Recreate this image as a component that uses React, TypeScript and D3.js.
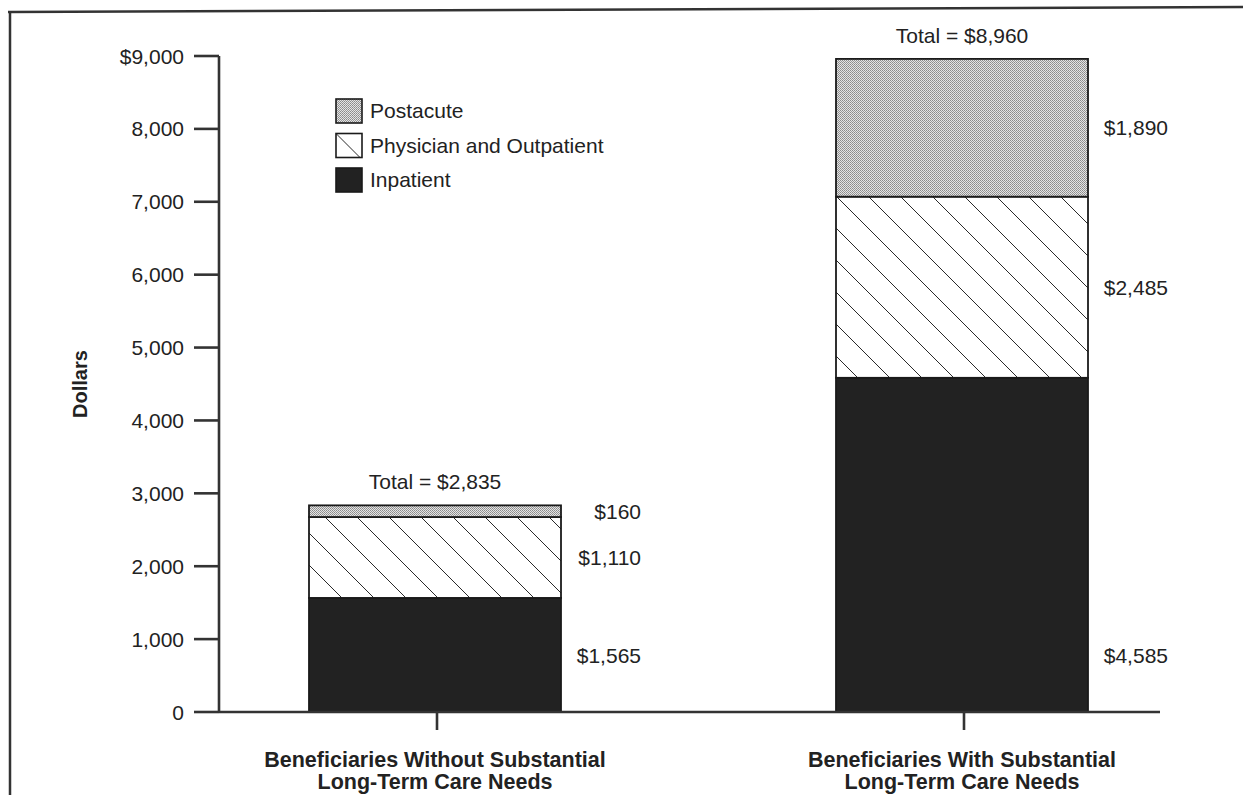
import { useEffect, useRef } from "react";
import * as d3 from 'd3'

// values (dollars per beneficiary)
const groups = ['without', 'with']
const categoryLines = [
    ['Beneficiaries Without Substantial', 'Long-Term Care Needs'],
    ['Beneficiaries With Substantial', 'Long-Term Care Needs'],
]
const inpatient = [1565, 4585]
const physician = [1110, 2485]
const postacute = [160, 1890]
const totals = [2835, 8960]
const seriesKeys = ['inpatient', 'physician', 'postacute']
const legendNames = ['Postacute', 'Physician and Outpatient', 'Inpatient']
const yTicks = [0, 1000, 2000, 3000, 4000, 5000, 6000, 7000, 8000, 9000]

const W = 1243
const H = 795
const FONT = '"Liberation Sans", Arial, Helvetica, sans-serif'

function fmtMoney(v: number): string {
    return '$' + d3.format(',')(v)
}

export default function App() {
    const svgRef = useRef<SVGSVGElement>(null)

    useEffect(() => {
        const svg = d3.select(svgRef.current)
        svg.selectAll('*').remove()

        const rows = groups.map((g, i) => ({
            group: g,
            inpatient: inpatient[i],
            physician: physician[i],
            postacute: postacute[i],
        }))

        const y = d3.scaleLinear().domain([0, 9000]).range([712, 56])
        const x = d3.scalePoint<string>().domain(groups).range([435, 962])
        const barW = 252
        const axisX = 219

        const defs = svg.append('defs')
        const dots = defs.append('pattern')
            .attr('id', 'stipple')
            .attr('patternUnits', 'userSpaceOnUse')
            .attr('width', 2).attr('height', 2)
        dots.append('rect').attr('width', 2).attr('height', 2).attr('fill', '#e4e4e4')
        dots.append('rect').attr('width', 1).attr('height', 1).attr('fill', '#8a8a8a')
        dots.append('rect').attr('x', 1).attr('y', 1).attr('width', 1).attr('height', 1).attr('fill', '#9a9a9a')

        const hatch = defs.append('pattern')
            .attr('id', 'hatch')
            .attr('patternUnits', 'userSpaceOnUse')
            .attr('width', 32).attr('height', 32)
        hatch.append('rect').attr('width', 32).attr('height', 32).attr('fill', '#fff')
        hatch.append('path')
            .attr('d', 'M0,0L32,32M-4,28L4,36M28,-4L36,4')
            .attr('stroke', '#2a2a2a')
            .attr('stroke-width', 1)

        const fills: Record<string, string> = {
            inpatient: '#222',
            physician: 'url(#hatch)',
            postacute: 'url(#stipple)',
        }

        // frame of the scanned page
        svg.append('line')
            .attr('x1', 8).attr('x2', W).attr('y1', 12).attr('y2', 7)
            .attr('stroke', '#333').attr('stroke-width', 2.5)
        svg.append('line')
            .attr('x1', 10).attr('x2', 10).attr('y1', 11).attr('y2', H)
            .attr('stroke', '#333').attr('stroke-width', 2.5)

        // stacked bars
        const stack = d3.stack<any>().keys(seriesKeys)(rows)
        const layers = svg.append('g')
        stack.forEach(layer => {
            layers.append('g')
                .selectAll('rect')
                .data(layer)
                .join('rect')
                .attr('x', (d: any) => (x(d.data.group) as number) - barW / 2)
                .attr('y', d => y(d[1]))
                .attr('width', barW)
                .attr('height', d => y(d[0]) - y(d[1]))
                .attr('fill', fills[layer.key])
                .attr('stroke', '#1a1a1a')
                .attr('stroke-width', 1.8)
        })

        // y axis
        const yAxis = svg.append('g')
        yAxis.append('line')
            .attr('x1', axisX).attr('x2', axisX)
            .attr('y1', y(9000)).attr('y2', y(0))
            .attr('stroke', '#333').attr('stroke-width', 2.6)
        yAxis.selectAll('line.tick')
            .data(yTicks)
            .join('line')
            .attr('class', 'tick')
            .attr('x1', axisX - 25).attr('x2', axisX)
            .attr('y1', d => y(d)).attr('y2', d => y(d))
            .attr('stroke', '#333').attr('stroke-width', 2.6)
        yAxis.selectAll('text')
            .data(yTicks)
            .join('text')
            .attr('x', axisX - 35)
            .attr('y', d => y(d))
            .attr('dy', '0.36em')
            .attr('text-anchor', 'end')
            .attr('font-family', FONT)
            .attr('font-size', 21)
            .attr('fill', '#222')
            .text(d => d === 9000 ? fmtMoney(d) : d3.format(',')(d))

        svg.append('text')
            .attr('transform', `translate(87,${y(4500)}) rotate(-90)`)
            .attr('text-anchor', 'middle')
            .attr('font-family', FONT)
            .attr('font-weight', 'bold')
            .attr('font-size', 20)
            .attr('fill', '#222')
            .text('Dollars')

        // x axis
        svg.append('line')
            .attr('x1', axisX).attr('x2', 1160)
            .attr('y1', y(0)).attr('y2', y(0))
            .attr('stroke', '#333').attr('stroke-width', 2.6)
        svg.append('g')
            .selectAll('line')
            .data(groups)
            .join('line')
            .attr('x1', d => (x(d) as number) + 2).attr('x2', d => (x(d) as number) + 2)
            .attr('y1', y(0)).attr('y2', y(0) + 18)
            .attr('stroke', '#333').attr('stroke-width', 2.6)
        const cat = svg.append('g')
            .selectAll('text')
            .data(groups)
            .join('text')
            .attr('text-anchor', 'middle')
            .attr('font-family', FONT)
            .attr('font-weight', 'bold')
            .attr('font-size', 21.5)
            .attr('fill', '#222')
        cat.each(function (d, i) {
            const t = d3.select(this)
            categoryLines[i].forEach((line, j) => {
                t.append('tspan')
                    .attr('x', x(d) as number)
                    .attr('y', 767 + j * 22)
                    .text(line)
            })
        })

        // totals above bars
        svg.append('g')
            .selectAll('text')
            .data(groups)
            .join('text')
            .attr('x', d => x(d) as number)
            .attr('y', (d, i) => y(totals[i]) - 16)
            .attr('text-anchor', 'middle')
            .attr('font-family', FONT)
            .attr('font-size', 21)
            .attr('fill', '#222')
            .text((d, i) => 'Total = ' + fmtMoney(totals[i]))

        // segment values to the right of each bar; inpatient labels share one row
        const inpatientRow = y((d3.min(inpatient) as number) / 2)
        const segLabels = svg.append('g')
        stack.forEach(layer => {
            segLabels.append('g')
                .selectAll('text')
                .data(layer)
                .join('text')
                .attr('x', (d: any) => (x(d.data.group) as number) + barW / 2 + 80)
                .attr('y', d => layer.key === 'inpatient' ? inpatientRow : y((d[0] + d[1]) / 2))
                .attr('dy', '0.36em')
                .attr('text-anchor', 'end')
                .attr('font-family', FONT)
                .attr('font-size', 21)
                .attr('fill', '#222')
                .text(d => fmtMoney(d[1] - d[0]))
        })

        // legend
        const legendFills = [fills.postacute, fills.physician, fills.inpatient]
        const legend = svg.append('g').attr('transform', 'translate(336,99)')
        const item = legend.selectAll('g')
            .data(legendNames)
            .join('g')
            .attr('transform', (d, i) => `translate(0,${i * 34.5})`)
        item.append('rect')
            .attr('width', 26).attr('height', 24)
            .attr('fill', (d, i) => legendFills[i])
            .attr('stroke', '#1a1a1a')
            .attr('stroke-width', 1.6)
        item.append('text')
            .attr('x', 34)
            .attr('y', 19)
            .attr('font-family', FONT)
            .attr('font-size', 21)
            .attr('fill', '#222')
            .text(d => d)
    }, [])

    return (
        <svg ref={svgRef} width={W} height={H}
            style={{ position: 'absolute', left: 0, top: 0, background: '#fff' }} />
    )
}
